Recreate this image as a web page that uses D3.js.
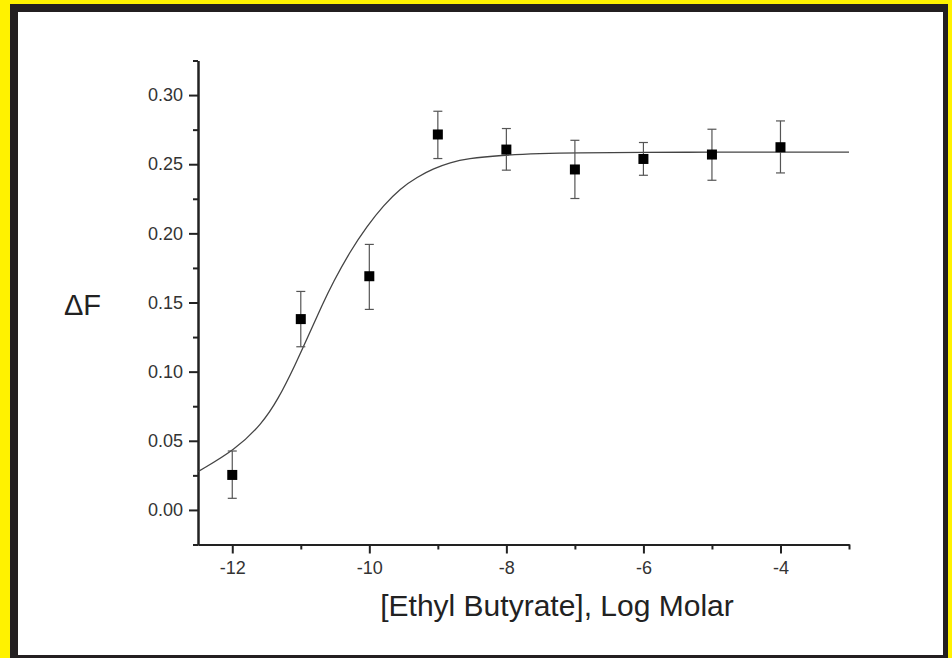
<!DOCTYPE html>
<html>
<head>
<meta charset="utf-8">
<script src="https://cdn.jsdelivr.net/npm/d3@7/dist/d3.min.js"></script>
<style>
  html, body { margin: 0; padding: 0; background: #fff200; }
  svg { display: block; }
  .tick text { font-family: "Liberation Sans", Arial, sans-serif; font-size: 18px; fill: #333; }
</style>
</head>
<body>
<div id="chart"></div>
<script>
// 数据点 (log molar, ΔF, 误差上下限)
const logConc = [-12, -11, -10, -9, -8, -7, -6, -5, -4];
const deltaF  = [0.0253, 0.138, 0.169, 0.2715, 0.2606, 0.2462, 0.2538, 0.2570, 0.2623];
const errHigh = [0.0426, 0.158, 0.192, 0.2883, 0.2758, 0.2673, 0.2657, 0.2753, 0.2813];
const errLow  = [0.0084, 0.118, 0.145, 0.2541, 0.2457, 0.2252, 0.2420, 0.2384, 0.2437];

// 拟合曲线 (从图上读取的点)
const fitX = [-12.5, -11.96, -11.57, -11.33, -11.08, -10.88, -10.69, -10.53, -10.28, -10.03, -9.79, -9.55, -9.30, -9.06, -8.82, -8.57, -8.08, -7.5, -7, -6, -5, -4, -3];
const fitY = [0.0277, 0.0434, 0.062, 0.080, 0.105, 0.127, 0.148, 0.1645, 0.187, 0.2055, 0.2204, 0.2324, 0.2408, 0.2469, 0.2512, 0.2541, 0.2565, 0.2577, 0.2583, 0.2586, 0.2587, 0.2588, 0.2588];

// 刻度
const xMajor = [-12, -10, -8, -6, -4];
const xMajorLabels = ["-12", "-10", "-8", "-6", "-4"];
const xMinor = [-11, -9, -7, -5, -3];
const yMajor = [0, 0.05, 0.10, 0.15, 0.20, 0.25, 0.30];
const yMajorLabels = ["0.00", "0.05", "0.10", "0.15", "0.20", "0.25", "0.30"];
const yMinor = [-0.025, 0.025, 0.075, 0.125, 0.175, 0.225, 0.275, 0.325];

const W = 952, H = 658;
const svg = d3.select('#chart').append('svg').attr('width', W).attr('height', H);

// 外框: 黄 -> 黑 -> 白
svg.append('rect').attr('x', 0).attr('y', 0).attr('width', W).attr('height', H).attr('fill', '#fff200');
svg.append('rect').attr('x', 10).attr('y', 4).attr('width', 938).attr('height', 654).attr('fill', '#231f20');
svg.append('rect').attr('x', 18).attr('y', 12).attr('width', 925).attr('height', 643).attr('fill', '#ffffff');

const x = d3.scaleLinear().domain([-12.5, -3]).range([198, 849]);
const y = d3.scaleLinear().domain([-0.025, 0.325]).range([544.5, 60.5]);

// 坐标轴
function styleAxis(g) {
    g.select('.domain').attr('stroke', '#222').attr('stroke-width', 2);
    g.selectAll('.tick line').attr('stroke', '#222').attr('stroke-width', 2);
}

svg.append('g')
    .attr('transform', `translate(0,${y(-0.025)})`)
    .call(d3.axisBottom(x).tickValues(xMinor).tickSize(5).tickSizeOuter(0).tickFormat(''))
    .call(styleAxis);
svg.append('g')
    .attr('transform', `translate(0,${y(-0.025)})`)
    .call(d3.axisBottom(x).tickValues(xMajor).tickSize(9).tickSizeOuter(0).tickPadding(8)
        .tickFormat((d, i) => xMajorLabels[i]))
    .call(styleAxis);

svg.append('g')
    .attr('transform', `translate(${x(-12.5)},0)`)
    .call(d3.axisLeft(y).tickValues(yMinor).tickSize(5).tickSizeOuter(0).tickFormat(''))
    .call(styleAxis);
svg.append('g')
    .attr('transform', `translate(${x(-12.5)},0)`)
    .call(d3.axisLeft(y).tickValues(yMajor).tickSize(9).tickSizeOuter(0).tickPadding(6)
        .tickFormat((d, i) => yMajorLabels[i]))
    .call(styleAxis);

// 拟合曲线
const line = d3.line()
    .x((d, i) => x(fitX[i]))
    .y(d => y(d))
    .curve(d3.curveBasis);
svg.append('path')
    .datum(fitY)
    .attr('d', line)
    .attr('fill', 'none')
    .attr('stroke', '#444')
    .attr('stroke-width', 1.3);

// 误差线
const err = svg.append('g').attr('stroke', '#555').attr('stroke-width', 1.2);
logConc.forEach((c, i) => {
    const cx = x(c);
    err.append('line').attr('x1', cx).attr('x2', cx).attr('y1', y(errLow[i])).attr('y2', y(errHigh[i]));
    err.append('line').attr('x1', cx - 4.5).attr('x2', cx + 4.5).attr('y1', y(errLow[i])).attr('y2', y(errLow[i]));
    err.append('line').attr('x1', cx - 4.5).attr('x2', cx + 4.5).attr('y1', y(errHigh[i])).attr('y2', y(errHigh[i]));
});

// 数据点 方块
const sz = 10;
svg.selectAll('.pt')
    .data(deltaF)
    .enter()
    .append('rect')
    .attr('class', 'pt')
    .attr('x', (d, i) => x(logConc[i]) - sz / 2)
    .attr('y', d => y(d) - sz / 2)
    .attr('width', sz)
    .attr('height', sz)
    .attr('fill', '#000');

// 轴标题
svg.append('text')
    .attr('x', 557).attr('y', 616)
    .attr('text-anchor', 'middle')
    .style('font-family', '"Liberation Sans", Arial, sans-serif')
    .style('font-size', '30px')
    .attr('fill', '#222')
    .text('[Ethyl Butyrate], Log Molar');

svg.append('text')
    .attr('x', 64).attr('y', 315)
    .style('font-family', '"Liberation Sans", Arial, sans-serif')
    .style('font-size', '29px')
    .attr('fill', '#222')
    .text('ΔF');
</script>
</body>
</html>
